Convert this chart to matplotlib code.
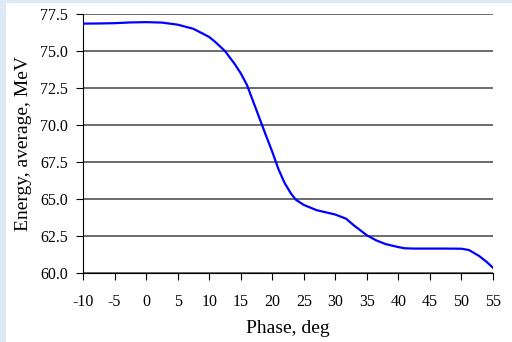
import matplotlib
matplotlib.use("Agg")
import matplotlib.pyplot as plt
from matplotlib.patches import Rectangle

# phase (deg) vs average energy (MeV)
phase = [-10, -7.5, -5, -2.5, 0, 2.5, 5, 7.5, 10, 11, 12.5, 14, 15, 16, 17.5, 19, 20, 21, 22,
         23, 23.75, 25, 27, 30, 31.7, 33, 35, 36.5, 38, 40, 41, 42.5, 45, 47.5, 50, 51.2,
         52.8, 54, 55]
energy = [76.85, 76.86, 76.88, 76.93, 76.95, 76.92, 76.78, 76.5, 75.95, 75.6, 75.0, 74.15,
          73.5, 72.7, 71.0, 69.3, 68.2, 67.0, 66.05, 65.35, 64.95, 64.6, 64.25, 63.95,
          63.67, 63.2, 62.55, 62.2, 61.95, 61.75, 61.67, 61.65, 61.65, 61.65, 61.64,
          61.55, 61.15, 60.75, 60.35]

xticks = list(range(-10, 60, 5))
yticks = [60.0, 62.5, 65.0, 67.5, 70.0, 72.5, 75.0, 77.5]

plt.rcParams['font.family'] = ['Liberation Serif', 'DejaVu Serif']

fig = plt.figure(figsize=(5.12, 3.42), dpi=100, facecolor='#dde9f4')
fig.patches.append(Rectangle((6 / 512, 0), 1, 1 - 3 / 342, transform=fig.transFigure,
                             facecolor='white', edgecolor='none', zorder=-10))
ax = fig.add_axes([83 / 512, 1 - 273 / 342, 410 / 512, 259 / 342])
ax.set_zorder(1)
ax.set_facecolor('white')

ax.plot(phase, energy, color='#0000ff', lw=1.6, zorder=3)

ax.set_xlim(-10, 55)
ax.set_ylim(60, 77.5)
ax.set_xticks(xticks)
ax.set_xticklabels([str(t) for t in xticks])
ax.set_yticks(yticks)
ax.set_yticklabels([f"{t:.1f}" for t in yticks])
ax.yaxis.grid(True, color='#444444', lw=1.1)
ax.set_axisbelow(True)
for s in ['top', 'right']:
    ax.spines[s].set_visible(False)
ax.spines['left'].set_color('black')
ax.spines['bottom'].set_color('black')
ax.tick_params(axis='both', direction='out', length=5, labelsize=11.5, colors='black')
ax.tick_params(axis='x', pad=10)
ax.tick_params(axis='y', pad=6)

ax.set_xlabel("Phase, deg", fontsize=14, labelpad=7)
ax.set_ylabel("Energy, average, MeV", fontsize=14, labelpad=6)

fig.savefig("out.png", dpi=100, facecolor=fig.get_facecolor())
